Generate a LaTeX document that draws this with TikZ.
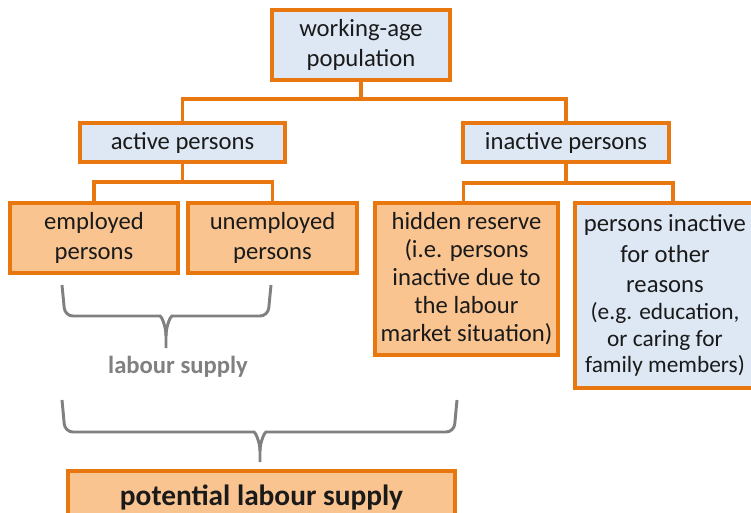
\documentclass[tikz,border=0pt]{standalone}
\usepackage{fontspec}
\setmainfont{Carlito}
\usetikzlibrary{positioning}
\definecolor{boxorange}{HTML}{E8770F}
\definecolor{fillorange}{HTML}{FAC490}
\definecolor{fillblue}{HTML}{DEE8F4}
\definecolor{bracegray}{HTML}{808080}
\definecolor{inkblack}{HTML}{1A1A1A}

\begin{document}
\begin{tikzpicture}[x=0.75pt,y=-0.75pt,
   box/.style={draw=boxorange,line width=2.5pt,align=center,inner sep=0pt,text=inkblack,
               font=\fontsize{18.5}{22.5}\selectfont},
   bluebox/.style={box,fill=fillblue},
   orangebox/.style={box,fill=fillorange},
   link/.style={draw=boxorange,line width=2.5pt},
   brace/.style={draw=bracegray,line width=2.2pt,rounded corners=6pt},
   lbl/.style={font=\fontsize{18.5}{22}\selectfont\bfseries,text=bracegray}]
  \clip (0,0) rectangle (751,512);
  % population tree
  \node[bluebox,minimum width=133.5pt,minimum height=52.5pt] (wap) at (361,45) {working-age\\population};
  \node[bluebox,minimum width=153.75pt,minimum height=29.25pt] (act) at (182.5,142.5) {active persons};
  \node[bluebox,minimum width=154.5pt,minimum height=29.25pt] (inact) at (566,142.5) {inactive persons};
  \node[orangebox,minimum width=126pt,minimum height=52.5pt] (emp) at (94,238) {employed\\persons};
  \node[orangebox,minimum width=126.75pt,minimum height=52.5pt] (unemp) at (272.5,238) {unemployed\\persons};
  \node[orangebox,minimum width=137.25pt,minimum height=114pt,font=\fontsize{18.5}{21}\selectfont] (hid) at (466.5,279)
        {hidden reserve\\(i.e. persons\\inactive due to\\the labour\\market situation)};
  \node[bluebox,minimum width=135pt,minimum height=138.75pt,font=\fontsize{18.5}{23}\selectfont] (oth) at (665,295.5)
        {persons inactive\\for other\\reasons\\[-3pt]\fontsize{17.5}{20}\selectfont (e.g. education,\\[-3pt]
         \fontsize{17.5}{20}\selectfont or caring for\\[-3pt]\fontsize{17.5}{20}\selectfont family members)};

  \coordinate (top) at (361,99);
  \draw[link] (wap) -- (top);
  \draw[link] (act.north) |- (top) -| (inact.north);
  \coordinate (actj) at (182.5,182);
  \draw[link] (act) -- (actj);
  \draw[link] (emp.north) |- (actj) -| (unemp.north);
  \coordinate (inactj) at (566,183);
  \draw[link] (inact) -- (inactj);
  \draw[link] ([xshift=-2.5pt]hid.north) |- (inactj) -| ([xshift=6pt]oth.north);

  % braces
  \draw[brace] (62,285) -- (65,316) -- (152,316) [sharp corners] to[out=0,in=90] (166,336) -- (166,348);
  \draw[brace] (271,285) -- (268,316) -- (180,316) [sharp corners] to[out=180,in=90] (166,336);
  \node[lbl] (ls) at (178,367) {labour supply};
  \draw[brace] (62,400) -- (65,432) -- (246,432) [sharp corners] to[out=0,in=90] (260,451) -- (260,462);
  \draw[brace] (457,400) -- (454,432) -- (274,432) [sharp corners] to[out=180,in=90] (260,451);
  \node[orangebox,minimum width=290.25pt,minimum height=39pt,font=\fontsize{22}{26}\selectfont\bfseries] (pot) at (261.5,497)
        {potential labour supply};
\end{tikzpicture}
\end{document}
